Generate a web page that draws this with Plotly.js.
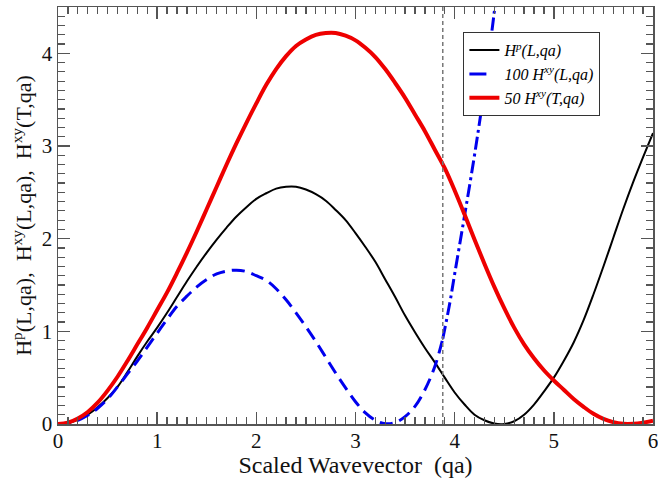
<!DOCTYPE html>
<html>
<head>
<meta charset="utf-8">
<script src="https://cdn.plot.ly/plotly-3.0.1.min.js"></script>
<style>html,body{margin:0;padding:0;background:#fff;}#chart{width:658px;height:478px;}</style>
</head>
<body>
<div id="chart"></div>
<script>
// x grid shared by the black and red curves
const qa = [0, 0.1, 0.2, 0.3, 0.4, 0.5, 0.6, 0.7, 0.8, 0.9, 1.0, 1.1, 1.2, 1.3, 1.4, 1.5, 1.6, 1.7, 1.8, 1.9, 2.0, 2.1, 2.2, 2.3, 2.4, 2.5, 2.6, 2.7, 2.8, 2.9, 3.0, 3.1, 3.2, 3.3, 3.4, 3.5, 3.6, 3.7, 3.8, 3.9, 4.0, 4.1, 4.2, 4.3, 4.4, 4.5, 4.6, 4.7, 4.8, 4.9, 5.0, 5.1, 5.2, 5.3, 5.4, 5.5, 5.6, 5.7, 5.8, 5.9, 6.0];
// H^p(L,qa)
const hpL = [0, 0.01, 0.045, 0.10, 0.18, 0.28, 0.40, 0.56, 0.73, 0.89, 1.04, 1.20, 1.37, 1.54, 1.70, 1.85, 1.99, 2.12, 2.24, 2.34, 2.43, 2.49, 2.54, 2.56, 2.56, 2.53, 2.48, 2.41, 2.31, 2.20, 2.06, 1.91, 1.75, 1.56, 1.37, 1.17, 0.99, 0.82, 0.665, 0.50, 0.34, 0.21, 0.10, 0.04, 0.005, 0, 0.03, 0.10, 0.21, 0.35, 0.50, 0.68, 0.88, 1.12, 1.40, 1.70, 2.01, 2.32, 2.61, 2.88, 3.14];
// 50 H^xy(T,qa)
const hxyT = [0, 0.015, 0.06, 0.13, 0.23, 0.36, 0.51, 0.68, 0.86, 1.04, 1.23, 1.42, 1.63, 1.85, 2.08, 2.32, 2.56, 2.80, 3.03, 3.25, 3.46, 3.66, 3.83, 3.97, 4.08, 4.15, 4.20, 4.22, 4.22, 4.19, 4.14, 4.06, 3.96, 3.83, 3.68, 3.52, 3.34, 3.16, 2.96, 2.76, 2.52, 2.26, 1.99, 1.73, 1.48, 1.25, 1.04, 0.86, 0.71, 0.58, 0.47, 0.37, 0.27, 0.185, 0.11, 0.055, 0.02, 0.003, 0.003, 0.015, 0.035];
// 100 H^xy(L,qa): dashed part up to the vertical marker, dash-dot part beyond it
const qaL1 = [0, 0.1, 0.2, 0.3, 0.4, 0.5, 0.6, 0.7, 0.8, 0.9, 1.0, 1.1, 1.2, 1.3, 1.4, 1.5, 1.6, 1.7, 1.8, 1.9, 2.0, 2.1, 2.2, 2.3, 2.4, 2.5, 2.6, 2.7, 2.8, 2.9, 3.0, 3.1, 3.2, 3.3, 3.4, 3.5, 3.6, 3.7, 3.8, 3.88];
const hxyL1 = [0, 0.01, 0.04, 0.095, 0.17, 0.27, 0.40, 0.54, 0.68, 0.83, 0.98, 1.13, 1.27, 1.38, 1.48, 1.56, 1.62, 1.65, 1.66, 1.645, 1.60, 1.55, 1.46, 1.34, 1.20, 1.05, 0.89, 0.72, 0.55, 0.39, 0.24, 0.12, 0.04, 0.003, 0.015, 0.08, 0.19, 0.37, 0.62, 0.92];
const qaL2 = [3.88, 3.95, 4.0, 4.1, 4.2, 4.3, 4.4, 4.45];
const hxyL2 = [0.92, 1.30, 1.62, 2.25, 2.90, 3.62, 4.45, 4.9];
const markerX = 3.88;
const legendNames = ['H<sup>p</sup>(L,qa)', '100 H<sup>xy</sup>(L,qa)', '50 H<sup>xy</sup>(T,qa)'];

const serif = 'Liberation Serif';
const traces = [
  {x: qa, y: hpL, mode: 'lines', line: {color: '#000', width: 2, shape: 'spline'}, name: legendNames[0], legendrank: 1},
  {x: qaL1, y: hxyL1, mode: 'lines', line: {color: '#0000ee', width: 3, dash: '13px,7px', shape: 'spline'}, showlegend: false},
  {x: qaL2, y: hxyL2, mode: 'lines', line: {color: '#0000ee', width: 3, dash: '13px,4px,3px,4px', shape: 'spline'}, showlegend: false},
  {x: qa, y: hxyT, mode: 'lines', line: {color: '#ee0000', width: 4, shape: 'spline'}, name: legendNames[2], legendrank: 3},
  {x: [null], y: [null], mode: 'lines', line: {color: '#0000ee', width: 3, dash: '17px,40px'}, name: legendNames[1], legendrank: 2}
];

const axisCommon = {
  showgrid: false, zeroline: false, showline: true, linecolor: '#555', linewidth: 1.5,
  mirror: 'allticks', ticks: 'inside', ticklen: 12, tickwidth: 1.5, tickcolor: '#555',
  tickmode: 'linear', tick0: 0, dtick: 1, ticklabeloverflow: 'allow',
  tickfont: {family: serif, size: 21, color: '#111'},
  minor: {ticks: 'inside', ticklen: 7, tickwidth: 1.2, tickcolor: '#555', tickmode: 'linear', tick0: 0, dtick: 0.1, showgrid: false}
};
const layout = {
  width: 658, height: 478,
  margin: {l: 58, r: 5, t: 7, b: 54},
  paper_bgcolor: '#fff', plot_bgcolor: '#fff',
  font: {family: serif},
  showlegend: true,
  legend: {x: 0.681, y: 0.94, xanchor: 'left', yanchor: 'top', bgcolor: '#fff', bordercolor: '#333', borderwidth: 1.2,
           font: {family: serif, size: 16, color: '#000', style: 'italic'}, traceorder: 'normal'},
  xaxis: Object.assign({}, axisCommon, {range: [0, 6], ticklabelstandoff: -3,
    title: {text: 'Scaled Wavevector  (qa)', font: {family: serif, size: 24, color: '#111'}, standoff: 4}}),
  yaxis: Object.assign({}, axisCommon, {range: [0, 4.5],
    title: {text: 'H<sup>p</sup>(L,qa),  H<sup>xy</sup>(L,qa),  H<sup>xy</sup>(T,qa)', font: {family: serif, size: 22, color: '#111'}, standoff: 4}}),
  shapes: [{type: 'line', xref: 'x', yref: 'paper', x0: markerX, x1: markerX, y0: 0, y1: 1,
            line: {color: '#777', width: 1.5, dash: '4px,3px'}}]
};
Plotly.newPlot('chart', traces, layout, {staticPlot: true});
</script>
</body>
</html>
